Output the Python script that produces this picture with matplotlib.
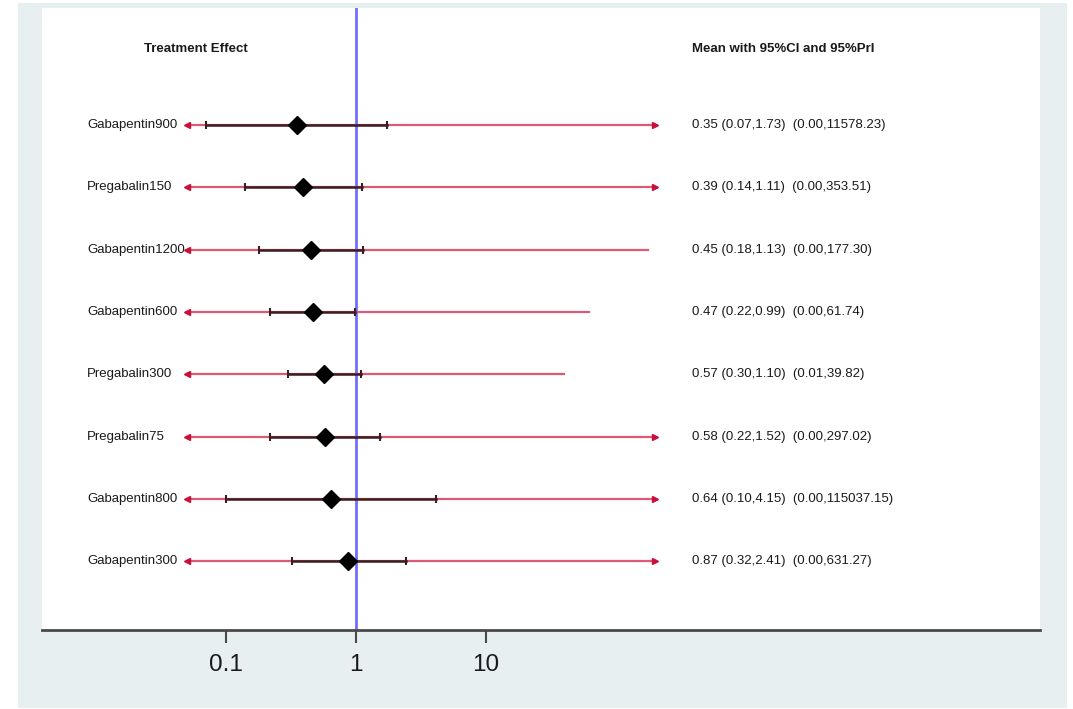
import numpy as np
import matplotlib.pyplot as plt
import matplotlib as mpl
from matplotlib.transforms import blended_transform_factory

mpl.rcParams['font.family'] = ['Liberation Sans', 'DejaVu Sans']

names = ['Gabapentin900', 'Pregabalin150', 'Gabapentin1200', 'Gabapentin600',
         'Pregabalin300', 'Pregabalin75', 'Gabapentin800', 'Gabapentin300']
mean = [0.35, 0.39, 0.45, 0.47, 0.57, 0.58, 0.64, 0.87]
ci_lo = [0.07, 0.14, 0.18, 0.22, 0.30, 0.22, 0.10, 0.32]
ci_hi = [1.73, 1.11, 1.13, 0.99, 1.10, 1.52, 4.15, 2.41]
pri_lo = [0.00, 0.00, 0.00, 0.00, 0.01, 0.00, 0.00, 0.00]
pri_hi = [11578.23, 353.51, 177.30, 61.74, 39.82, 297.02, 115037.15, 631.27]

# prediction intervals get cut here and drawn as arrows
LO_CUT, HI_CUT = 0.05, 200

W, H = 1073, 709
fig = plt.figure(figsize=(W / 100, H / 100), dpi=100, facecolor='white')

# light grey frame behind the white plot panel
bg = fig.add_axes([18 / W, 1 - 708 / H, (1067 - 18) / W, (708 - 3) / H])
bg.set_facecolor('#e8eff1')
bg.set_xticks([]), bg.set_yticks([])
for s in bg.spines.values():
    s.set_visible(False)
bg.set_zorder(0)

ax = fig.add_axes([42 / W, 1 - 630 / H, (1040 - 42) / W, (630 - 8) / H])
ax.set_zorder(1)
ax.set_facecolor('white')
ax.set_xscale('log')
ax.set_xlim(10 ** -2.415, 10 ** 5.262)
ax.set_ylim(8.1, -1.88)

for s in ['top', 'left', 'right']:
    ax.spines[s].set_visible(False)
ax.spines['bottom'].set_color('#4a4a4a')
ax.spines['bottom'].set_linewidth(2)
ax.set_yticks([])
ax.set_xticks([0.1, 1, 10])
ax.set_xticklabels(['0.1', '1', '10'])
ax.xaxis.set_minor_locator(mpl.ticker.NullLocator())
ax.tick_params(axis='x', length=9, width=1.5, color='#4a4a4a', labelsize=17.5,
               pad=8, labelcolor='#1a1a1a')

ax.axvline(1, color='#6f6fff', lw=2, zorder=1)

pri_col, head_col, ci_col = '#dc5a75', '#c8103a', '#3a1e22'
tr = blended_transform_factory(ax.transAxes, ax.transData)

for i, n in enumerate(names):
    lo = max(pri_lo[i], LO_CUT)
    hi = min(pri_hi[i], HI_CUT)
    ax.plot([lo, hi], [i, i], color=pri_col, lw=1.6, zorder=2)
    if pri_lo[i] < LO_CUT:
        ax.plot(lo, i, marker='<', ms=5, color=head_col, mec=head_col, zorder=3)
    if pri_hi[i] > HI_CUT:
        ax.plot(hi, i, marker='>', ms=5, color=head_col, mec=head_col, zorder=3)
    ax.plot([ci_lo[i], ci_hi[i]], [i, i], color=ci_col, lw=1.8, zorder=4)
    ax.plot([ci_lo[i], ci_hi[i]], [i, i], ls='none', marker='|', ms=6, mew=1.5,
            color=ci_col, zorder=4)
    ax.plot(mean[i], i, marker='D', ms=9, color='black', zorder=5)
    ax.text((87 - 42) / 998, i, n, transform=tr, ha='left', va='center',
            fontsize=9.5, color='#1a1a1a')
    txt = '%.2f (%.2f,%.2f)  (%.2f,%.2f)' % (mean[i], ci_lo[i], ci_hi[i],
                                            pri_lo[i], pri_hi[i])
    ax.text((692 - 42) / 998, i, txt, transform=tr, ha='left', va='center',
            fontsize=9.5, color='#1a1a1a')

ax.text((144 - 42) / 998, -1.22, 'Treatment Effect', transform=tr, ha='left',
        va='center', fontsize=9.5, fontweight='bold', color='#1a1a1a')
ax.text((692 - 42) / 998, -1.22, 'Mean with 95%CI and 95%PrI', transform=tr,
        ha='left', va='center', fontsize=9.5, fontweight='bold', color='#1a1a1a')

fig.savefig('out.png', dpi=100, facecolor='white')
